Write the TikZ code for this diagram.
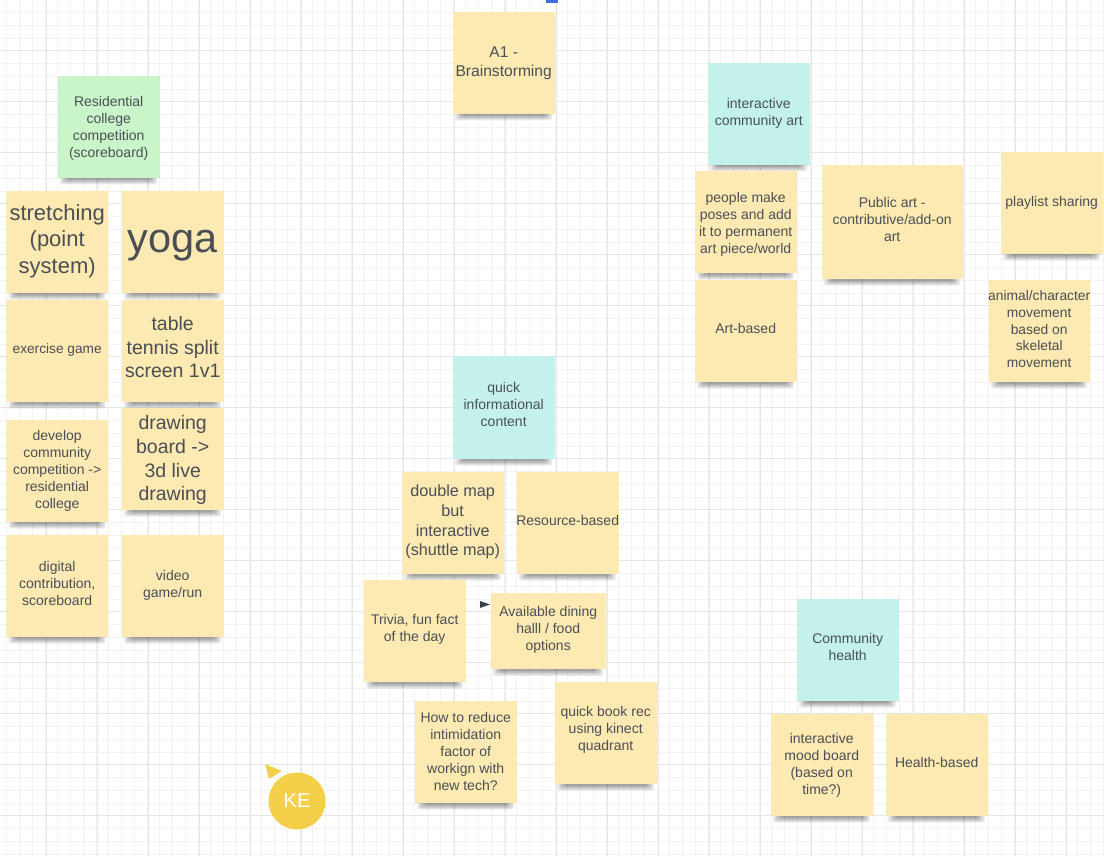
\documentclass[tikz,border=0pt]{standalone}
\usepackage{fontspec}
\setmainfont{Liberation Sans}
\definecolor{notey}{HTML}{FDE9B2}
\definecolor{noteg}{HTML}{C9F5C9}
\definecolor{notet}{HTML}{C3F2EC}
\definecolor{inkc}{HTML}{4A4F55}
\definecolor{gridminor}{HTML}{F2F2F2}
\definecolor{gridmajor}{HTML}{E6E6E6}
\definecolor{badge}{HTML}{F4CF4A}
\definecolor{tabblue}{HTML}{3D6FDC}
\definecolor{markink}{HTML}{3A4252}
\tikzset{
  notebox/.style={draw=none,inner sep=0pt,anchor=north west},
  notetext/.style={draw=none,inner sep=0pt,align=center,text=inkc,anchor=center},
  notelayer/.style={fill=black,fill opacity=0.07,draw=none},
}
\newcommand{\stickynote}[9][3]{%
  % [raise], name, x, y, w, h, colour, font size, text
  \foreach \d/\e in {0/6.5,1.5/5.5,3/4.5,4.5/3.5,6/2.5,7.5/1.5}{
    \fill[notelayer,rounded corners=2pt] ({#3+2+\d},{#4+#6-3}) rectangle ({#3+#5-3-\d},{#4+#6+\e});
  }
  \pgfmathsetmacro{\lh}{#8*1.21}
  \node[notebox,fill=#7,minimum width=#5pt,minimum height=#6pt] (#2) at ({#3-0.5},#4) {};
  \node[notetext,font=\fontsize{#8}{\lh}\selectfont,yshift=#1pt] (#2-label) at (#2.center) {#9};
}
\begin{document}
\begin{tikzpicture}[x=1pt,y=-1pt]
\useasboundingbox (0,0) rectangle (1104,856);
\fill[white] (0,0) rectangle (1104,856);
% grid
\foreach \i in {0,...,87}{
  \pgfmathsetmacro{\gx}{6.7+12.75*\i}
  \draw[gridminor,line width=0.9pt] (\gx,0) -- (\gx,856);
}
\foreach \i in {0,...,67}{
  \pgfmathsetmacro{\gy}{12.5+12.75*\i}
  \draw[gridminor,line width=0.9pt] (0,\gy) -- (1104,\gy);
}
\foreach \i in {0,...,21}{
  \pgfmathsetmacro{\gx}{46+51*\i}
  \draw[gridmajor,line width=1pt] (\gx,0) -- (\gx,856);
}
\foreach \i in {0,...,16}{
  \pgfmathsetmacro{\gy}{50.5+51*\i}
  \draw[gridmajor,line width=1pt] (0,\gy) -- (1104,\gy);
}
% notes: left block
\stickynote[-1]{residential}{58}{76}{102}{102}{noteg}{14}{Residential\\college\\competition\\(scoreboard)}
\stickynote[1]{stretching}{6.5}{191}{102}{102}{notey}{22}{stretching\\(point\\system)}
\stickynote[-3]{yoga}{122}{191}{102}{102}{notey}{41.5}{yoga}
\stickynote[1]{exercise}{6.5}{300}{102}{102}{notey}{13.7}{exercise game}
\stickynote[4]{tabletennis}{122}{300}{102}{102}{notey}{19.5}{table\\tennis split\\screen 1v1}
\stickynote[0]{develop}{6.5}{420}{102}{102}{notey}{14}{develop\\community\\competition ->\\residential\\college}
\stickynote[-1]{drawing}{122}{408}{102}{102}{notey}{19.5}{drawing\\board ->\\3d live\\drawing}
\stickynote{digital}{6.5}{535}{102}{102}{notey}{14}{digital\\contribution,\\scoreboard}
\stickynote[1]{video}{122}{535}{102}{102}{notey}{14}{video\\game/run}
% centre top
\stickynote[0]{brainstorm}{453}{12}{102}{102}{notey}{15.6}{A1 -\\Brainstorming}
% right block
\stickynote[1]{communityart}{708}{63}{102}{102}{notet}{14}{interactive\\community art}
\stickynote[-2]{poses}{695}{171}{102}{102}{notey}{14}{people make\\poses and add\\it to permanent\\art piece/world}
\stickynote{artbased}{695}{280}{102}{102}{notey}{14}{Art-based}
\stickynote{publicart}{822}{165}{141}{114}{notey}{14}{Public art -\\contributive/add-on\\art}
\stickynote[0]{playlist}{1001}{152}{102}{102}{notey}{14}{playlist sharing}
\stickynote[2]{animal}{989}{280}{101}{102}{notey}{13.8}{animal/character\\movement\\based on\\skeletal\\movement}
% centre block
\stickynote{quickinfo}{453}{356}{102}{103}{notet}{14}{quick\\informational\\content}
\stickynote[1]{doublemap}{402}{472}{102}{102}{notey}{16.2}{double map\\but\\interactive\\(shuttle map)}
\stickynote{resource}{517}{472}{102}{102}{notey}{14}{Resource-based}
\stickynote[2]{trivia}{364}{580}{102}{102}{notey}{14}{Trivia, fun fact\\of the day}
\stickynote[1]{dining}{491}{593}{115}{76}{notey}{14}{Available dining\\halll / food\\options}
\stickynote[1]{intimidation}{415}{701}{102}{102}{notey}{14}{How to reduce\\intimidation\\factor of\\workign with\\new tech?}
\stickynote{book}{555}{682}{102}{102}{notey}{14}{quick book rec\\using kinect\\quadrant}
% bottom right
\stickynote{health}{797}{599}{102}{102}{notet}{14}{Community\\health}
\stickynote[0]{mood}{771}{714}{102}{102}{notey}{14}{interactive\\mood board\\(based on\\time?)}
\stickynote{healthbased}{886}{714}{102}{102}{notey}{14}{Health-based}
% small marks
\fill[markink] (480,601) -- (490,604.5) -- (480,608) -- cycle;
\fill[tabblue] (546,0) rectangle (558,3);
% cursor badge
\node[circle,fill=badge,minimum size=57pt,inner sep=0pt,text=white,font=\fontsize{20}{24}\selectfont] (ke) at (297,801) {KE};
\fill[badge,rounded corners=1pt] (265,764) -- (282,771) -- (269,779) -- cycle;
\end{tikzpicture}
\end{document}
